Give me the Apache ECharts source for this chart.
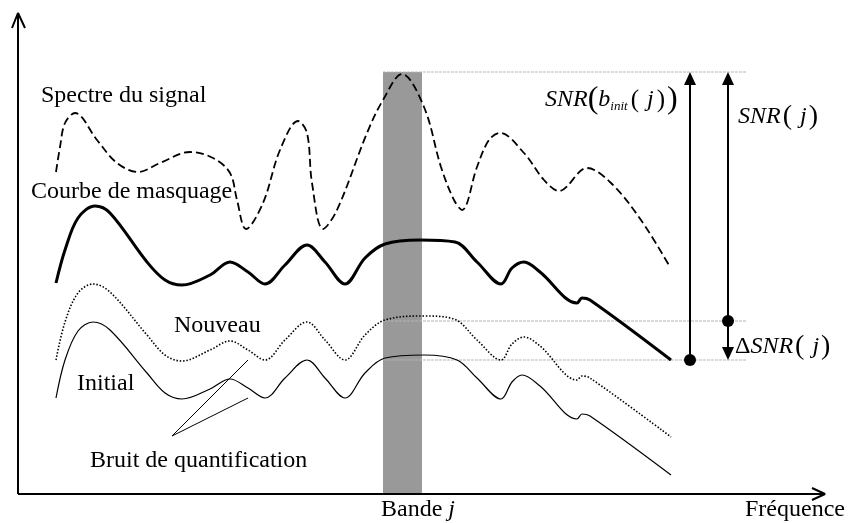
<!DOCTYPE html>
<html>
<head>
<meta charset="utf-8">
<script src="https://cdn.jsdelivr.net/npm/echarts@6/dist/echarts.min.js"></script>
<style>html,body{margin:0;padding:0;background:#fff}#c{width:848px;height:523px}</style>
</head>
<body>
<div id="c"></div>
<script>
// Schematic units: x = frequency (from the vertical axis), y = level (above the frequency axis)
var spectre = [[38,322],[42,347],[47,371],[57,381],[79,354],[99,331],[120,322],[142,331],[172,342],[195,336],[212,321],[219,294],[228,265],[245,291],[262,344],[280,373],[289,361],[294,311],[305,265],[319,284],[349,361],[365,394],[384,420],[406,387],[423,327],[436,294],[444,284],[459,327],[471,354],[482,361],[506,341],[526,314],[541,303],[569,326],[593,311],[623,274],[652,227]];
var masquage = [[38,211],[47,244],[60,276],[77,288],[92,281],[129,232],[147,214],[164,209],[192,219],[212,232],[230,222],[247,210],[267,229],[289,249],[307,232],[327,210],[347,236],[367,250],[402,254],[437,252],[459,232],[483,210],[494,226],[506,232],[522,222],[559,191],[564,196],[572,194],[653,134]];
var nouveau = [[38,134],[47,172],[60,201],[75,210],[92,202],[129,159],[147,139],[164,133],[192,144],[212,153],[230,144],[247,134],[267,154],[289,172],[307,154],[327,134],[347,159],[367,174],[406,178],[436,175],[459,154],[483,134],[494,150],[506,157],[522,148],[559,114],[564,118],[572,116],[653,57]];
var initial = [[38,96],[47,134],[60,163],[75,172],[92,164],[129,121],[147,101],[164,95],[192,105],[212,115],[230,106],[247,96],[267,116],[289,134],[307,116],[327,96],[347,121],[367,136],[406,139],[439,134],[459,116],[483,95],[494,112],[504,119],[522,108],[559,75],[564,80],[572,78],[653,19]];
var bruitPointer = [[230,134],[154,58],[230,96]];
var bande = {x0:365, x1:404, top:422};
var guideLevels = [422,173,134];
var guideRange = [365,729];
var snrInit = {x:672, from:134, to:422};
var snrJ = {x:710, from:173, to:422};
var deltaSnr = {x:710, from:173, to:134};
var yAxisArrow = {line:[[0,0],[0,481]], head:[[-6,466],[0,481],[7,466]]};
var xAxisArrow = {line:[[0,0],[807,0]], head:[[794,6],[807,0],[794,-6]]};

var chart = echarts.init(document.getElementById('c'), null, {renderer:'canvas'});
var FF = '"Liberation Serif","Times New Roman",serif';
function lineS(data, style, z){
  return {type:'line', data:data, symbol:'none', smooth:false, clip:false, silent:true, z:z||3, lineStyle:style};
}
var HEAD = [12,13];
function arrow(a, startSym){
  var dir = a.to > a.from ? 1 : -1;
  var s = startSym ? {coord:[a.x,a.from], symbol:'circle', symbolSize:12} : {coord:[a.x,a.from], symbol:'none'};
  return [s, {coord:[a.x, a.to - dir*HEAD[1]/2], symbol:'triangle', symbolSize:HEAD}];
}
var series = [];
series.push({type:'line', data:[], z:1, silent:true,
  markArea:{silent:true, itemStyle:{color:'#999999'}, data:[[{coord:[bande.x0,0]},{coord:[bande.x1,bande.top]}]]}});
guideLevels.forEach(function(l){
  series.push(lineS([[guideRange[0],l],[guideRange[1],l]], {color:'#b5b5b5', width:1, type:[3,1]}, 2));
});
series.push(Object.assign(lineS(spectre, {color:'#000', width:1.8, type:[8,4]}, 4), {smooth:0.35}));
series.push(Object.assign(lineS(masquage, {color:'#000', width:3}, 4), {smooth:0.35}));
series.push(Object.assign(lineS(nouveau, {color:'#000', width:1.6, type:[1.5,1.8]}, 4), {smooth:0.35}));
series.push(Object.assign(lineS(initial, {color:'#000', width:1.2}, 4), {smooth:0.35}));
series.push(lineS(bruitPointer, {color:'#000', width:1}, 4));
series.push(lineS(yAxisArrow.line, {color:'#000', width:2}, 5));
series.push(lineS(yAxisArrow.head, {color:'#000', width:2}, 5));
series.push(lineS(xAxisArrow.line, {color:'#000', width:2}, 5));
series.push(lineS(xAxisArrow.head, {color:'#000', width:2}, 5));
series.push({type:'line', data:[], z:6, silent:true,
  markLine:{silent:true, animation:false, label:{show:false}, lineStyle:{color:'#000', width:2, type:'solid'},
    data:[arrow(snrInit,true), arrow(snrJ,true), arrow(deltaSnr,false)]}});

function txt(x, y, text, extra){
  var st = Object.assign({text:text, fill:'#000', font:'24px '+FF, align:'left', verticalAlign:'middle'}, extra||{});
  return {type:'text', x:x, y:y, silent:true, z:10, style:st};
}
var it = 'italic 24px '+FF;
chart.setOption({
  animation:false,
  grid:{left:0, right:0, top:0, bottom:0},
  xAxis:{type:'value', min:-18, max:830, show:false},
  yAxis:{type:'value', min:-29, max:494, show:false},
  series:series,
  graphic:[
    txt(41, 96, 'Spectre du signal'),
    txt(31, 192, 'Courbe de masquage'),
    txt(174, 326, 'Nouveau'),
    txt(77, 384, 'Initial'),
    txt(90, 461, 'Bruit de quantification'),
    txt(745, 510, 'Fréquence'),
    txt(381, 510, '{n|Bande }{i|j}', {rich:{n:{font:'24px '+FF}, i:{font:'italic 24px '+FF}}}),
    txt(545, 100, '{i|SNR}{p|(}{i|b}{s|init}{q|(}{i| j}{q|)}{p|)}', {rich:{
      i:{font:it}, p:{font:'32px '+FF}, q:{font:'25px '+FF, padding:[0,2,0,3]}, s:{font:'italic 13px '+FF, verticalAlign:'bottom', padding:[0,0,3,0]}}}),
    txt(738, 117, '{i|SNR}{q|(}{i| j}{q|)}', {rich:{i:{font:it}, q:{font:'28px '+FF, padding:[0,2,0,2]}}}),
    txt(735, 347, '{d|Δ}{i|SNR}{q|(}{i| j}{q|)}', {rich:{d:{font:'24px '+FF}, i:{font:it}, q:{font:'28px '+FF, padding:[0,2,0,2]}}})
  ]
});
</script>
</body>
</html>
